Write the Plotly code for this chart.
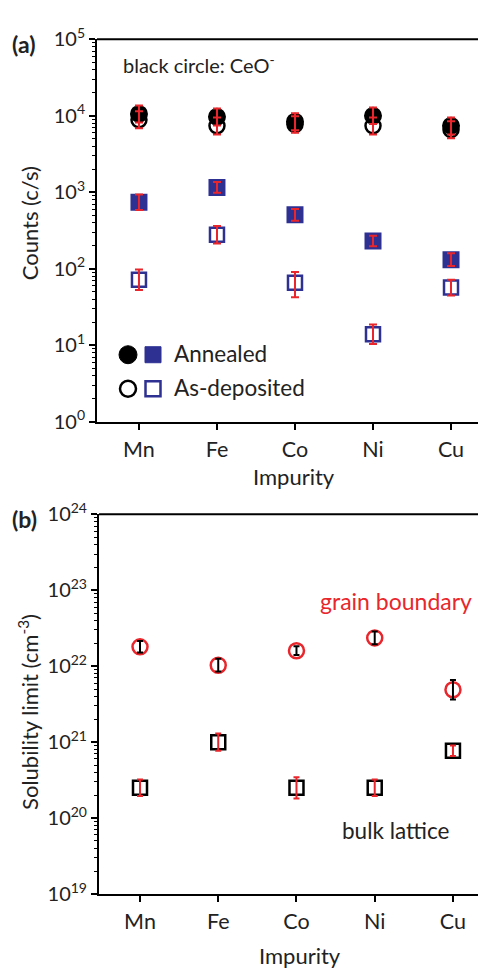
import plotly.graph_objects as go

W, H = 478, 978

impurities = ["Mn", "Fe", "Co", "Ni", "Cu"]
xpos = [0, 1, 2, 3, 4]

# Panel (a): counts (c/s)
ceo_annealed = [1.06e4, 9.7e3, 8.4e3, 1.0e4, 7.4e3]
ceo_annealed_plus = [3.1e3, 2.8e3, 2.4e3, 2.9e3, 2.1e3]
ceo_annealed_minus = [2.4e3, 2.2e3, 1.9e3, 2.2e3, 1.7e3]
ceo_asdep = [8.9e3, 7.4e3, 7.7e3, 7.4e3, 6.6e3]
ceo_asdep_plus = [2.6e3, 2.1e3, 2.2e3, 2.1e3, 1.9e3]
ceo_asdep_minus = [2.0e3, 1.7e3, 1.7e3, 1.7e3, 1.5e3]

imp_annealed = [743, 1160, 509, 231, 132]
imp_annealed_plus = [196, 203, 98, 40, 28]
imp_annealed_minus = [155, 173, 82, 34, 23]
imp_asdep = [72, 279, 66, 14, 57]
imp_asdep_plus = [26, 84, 25, 4.8, 15]
imp_asdep_minus = [19, 65, 23.5, 3.6, 12]

# Panel (b): solubility limit (cm^-3)
gb = [1.8e22, 1.03e22, 1.6e22, 2.36e22, 4.9e21]
gb_plus = [3.5e21, 2.2e21, 2.3e21, 5.0e21, 1.7e21]
gb_minus = [2.9e21, 1.8e21, 2.0e21, 4.1e21, 1.25e21]
bulk = [2.5e20, 1.0e21, 2.5e20, 2.5e20, 7.7e20]
bulk_plus = [7.1e19, 3.0e20, 9.6e19, 7.1e19, 1.35e20]
bulk_minus = [5.5e19, 2.3e20, 6.9e19, 5.5e19, 1.15e20]

ya_tickvals = [1, 10, 100, 1e3, 1e4, 1e5]
ya_ticktext = ["10<sup>0</sup>", "10<sup>1</sup>", "10<sup>2</sup>", "10<sup>3</sup>",
               "10<sup>4</sup>", "10<sup>5</sup>"]
yb_tickvals = [1e19, 1e20, 1e21, 1e22, 1e23, 1e24]
yb_ticktext = ["10<sup>19</sup>", "10<sup>20</sup>", "10<sup>21</sup>", "10<sup>22</sup>",
               "10<sup>23</sup>", "10<sup>24</sup>"]

RED = "#e8262b"
BLUE = "#2e3192"
FONT = "Lato"


def px(x):
    return x / W


def py(y):
    return 1 - y / H


fig = go.Figure()


def err(plus, minus, color, width=4, thick=2):
    return dict(type="data", array=plus, arrayminus=minus, color=color,
                thickness=thick, width=width, visible=True)


inv = dict(size=1, color="rgba(0,0,0,0)")

# ---- panel a ----
fig.add_trace(go.Scatter(x=xpos, y=ceo_asdep, mode="markers", xaxis="x", yaxis="y",
                         marker=dict(symbol="circle", size=15, color="white",
                                     line=dict(color="black", width=2.5))))
fig.add_trace(go.Scatter(x=xpos, y=ceo_annealed, mode="markers", xaxis="x", yaxis="y",
                         marker=dict(symbol="circle", size=16, color="black",
                                     line=dict(color="black", width=2))))
fig.add_trace(go.Scatter(x=xpos, y=ceo_asdep, mode="markers", xaxis="x", yaxis="y",
                         marker=inv, error_y=err(ceo_asdep_plus, ceo_asdep_minus, RED)))
fig.add_trace(go.Scatter(x=xpos, y=ceo_annealed, mode="markers", xaxis="x", yaxis="y",
                         marker=inv, error_y=err(ceo_annealed_plus, ceo_annealed_minus, RED)))

fig.add_trace(go.Scatter(x=xpos, y=imp_annealed, mode="markers", xaxis="x", yaxis="y",
                         marker=dict(symbol="square", size=15, color=BLUE,
                                     line=dict(color=BLUE, width=2))))
fig.add_trace(go.Scatter(x=xpos, y=imp_asdep, mode="markers", xaxis="x", yaxis="y",
                         marker=dict(symbol="square", size=14, color="white",
                                     line=dict(color=BLUE, width=2.5))))
fig.add_trace(go.Scatter(x=xpos, y=imp_annealed, mode="markers", xaxis="x", yaxis="y",
                         marker=inv, error_y=err(imp_annealed_plus, imp_annealed_minus, RED)))
fig.add_trace(go.Scatter(x=xpos, y=imp_asdep, mode="markers", xaxis="x", yaxis="y",
                         marker=inv, error_y=err(imp_asdep_plus, imp_asdep_minus, RED)))

# ---- panel b ----
fig.add_trace(go.Scatter(x=xpos, y=gb, mode="markers", xaxis="x2", yaxis="y2",
                         marker=dict(symbol="circle", size=15, color="white",
                                     line=dict(color=RED, width=2.5))))
fig.add_trace(go.Scatter(x=xpos, y=gb, mode="markers", xaxis="x2", yaxis="y2",
                         marker=inv, error_y=err(gb_plus, gb_minus, "black", width=3)))
fig.add_trace(go.Scatter(x=xpos, y=bulk, mode="markers", xaxis="x2", yaxis="y2",
                         marker=dict(symbol="square", size=14, color="white",
                                     line=dict(color="black", width=2.5))))
fig.add_trace(go.Scatter(x=xpos, y=bulk, mode="markers", xaxis="x2", yaxis="y2",
                         marker=inv, error_y=err(bulk_plus, bulk_minus, RED, width=3)))

xcommon = dict(tickmode="array", tickvals=xpos, ticktext=impurities,
               showline=True, linecolor="black", linewidth=2, ticks="outside",
               ticklen=6, tickwidth=2, tickcolor="black", showgrid=False, zeroline=False,
               tickfont=dict(family=FONT, size=21.5, color="#222"), ticklabelstandoff=1)
ycommon = dict(type="log", tickmode="array", showline=True, linecolor="black",
               linewidth=2, ticks="outside", ticklen=6, tickwidth=2, tickcolor="black",
               showgrid=False, zeroline=False,
               minor=dict(ticks="outside", ticklen=3, tickwidth=1, tickcolor="black",
                          dtick="D1", showgrid=False),
               tickfont=dict(family=FONT, size=20, color="#222"))

fig.update_layout(
    width=W, height=H, margin=dict(l=0, r=0, t=0, b=0),
    paper_bgcolor="white", plot_bgcolor="white", showlegend=False,
    xaxis=dict(**xcommon, domain=[px(97), 1], range=[-0.538, 4.346], anchor="y"),
    yaxis=dict(**ycommon, domain=[py(418), py(25)], range=[0, 5],
               tickvals=ya_tickvals, ticktext=ya_ticktext, anchor="x"),
    xaxis2=dict(**xcommon, domain=[px(99), 1], range=[-0.524, 4.32], anchor="y2"),
    yaxis2=dict(**ycommon, domain=[py(903), py(513)], range=[19, 24],
                tickvals=yb_tickvals, ticktext=yb_ticktext, anchor="x2"),
)

shapes = [
    dict(type="line", xref="x domain", yref="y domain", x0=0, x1=1, y0=1, y1=1,
         line=dict(color="black", width=2)),
    dict(type="line", xref="x2 domain", yref="y2 domain", x0=0, x1=1, y0=1, y1=1,
         line=dict(color="black", width=2)),
    # legend glyphs
    dict(type="circle", xref="paper", yref="paper", xsizemode="pixel", ysizemode="pixel",
         xanchor=px(128), yanchor=py(349), x0=-9, x1=9, y0=-9, y1=9,
         fillcolor="black", line=dict(color="black", width=1)),
    dict(type="rect", xref="paper", yref="paper", xsizemode="pixel", ysizemode="pixel",
         xanchor=px(153), yanchor=py(349), x0=-8, x1=8, y0=-8, y1=8,
         fillcolor=BLUE, line=dict(color=BLUE, width=1)),
    dict(type="circle", xref="paper", yref="paper", xsizemode="pixel", ysizemode="pixel",
         xanchor=px(128), yanchor=py(384), x0=-8, x1=8, y0=-8, y1=8,
         fillcolor="white", line=dict(color="black", width=2.5)),
    dict(type="rect", xref="paper", yref="paper", xsizemode="pixel", ysizemode="pixel",
         xanchor=px(153), yanchor=py(384), x0=-7.5, x1=7.5, y0=-7.5, y1=7.5,
         fillcolor="white", line=dict(color=BLUE, width=2.5)),
]
fig.update_layout(shapes=shapes)

txt = "#222"
ann = [
    dict(text="<b>(a)</b>", x=px(10), y=py(30), xanchor="left", yanchor="middle",
         font=dict(family=FONT, size=23, color=txt)),
    dict(text="<b>(b)</b>", x=px(10), y=py(518), xanchor="left", yanchor="middle",
         font=dict(family=FONT, size=23, color=txt)),
    dict(text="black circle: CeO<sup>-</sup>", x=px(121), y=py(50), xanchor="left",
         yanchor="middle", font=dict(family=FONT, size=20, color=txt)),
    dict(text="Annealed", x=px(172), y=py(348), xanchor="left", yanchor="middle",
         font=dict(family=FONT, size=22.5, color=txt)),
    dict(text="As-deposited", x=px(172), y=py(383), xanchor="left", yanchor="middle",
         font=dict(family=FONT, size=22.5, color=txt)),
    dict(text="Counts (c/s)", x=px(29), y=py(214), xanchor="center", yanchor="middle",
         textangle=-90, font=dict(family=FONT, size=22, color=txt)),
    dict(text="Impurity", x=px(294), y=py(474), xanchor="center", yanchor="middle",
         font=dict(family=FONT, size=22, color=txt)),
    dict(text="Solubility limit (cm<sup>-3</sup>)", x=px(29), y=py(716), xanchor="center",
         yanchor="middle", textangle=-90, font=dict(family=FONT, size=22, color=txt)),
    dict(text="Impurity", x=px(300), y=py(966), xanchor="center", yanchor="middle",
         font=dict(family=FONT, size=22, color=txt)),
    dict(text="grain boundary", x=px(318), y=py(602), xanchor="left", yanchor="middle",
         font=dict(family=FONT, size=23, color=RED)),
    dict(text="bulk lattice", x=px(340), y=py(838), xanchor="left", yanchor="middle",
         font=dict(family=FONT, size=22.5, color=txt)),
]
for a in ann:
    a.update(xref="paper", yref="paper", showarrow=False)
fig.update_layout(annotations=ann)

fig.write_html("out.html")
